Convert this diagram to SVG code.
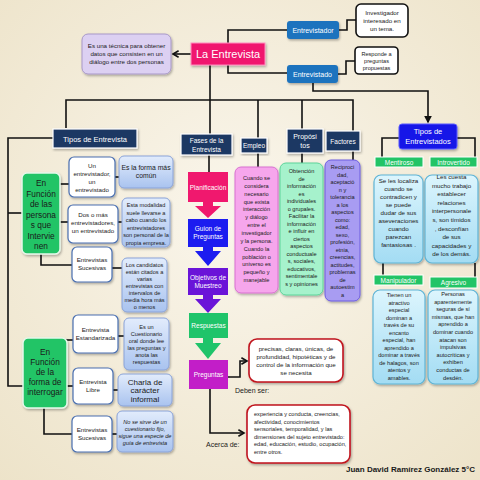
<svg xmlns="http://www.w3.org/2000/svg" width="480" height="480" viewBox="0 0 480 480">
<defs>
<radialGradient id="bg" cx="0.5" cy="0.45" r="0.75">
<stop offset="0" stop-color="#faf6ec"/>
<stop offset="1" stop-color="#ede3c9"/>
</radialGradient>
<linearGradient id="gb" x1="0" y1="0" x2="0" y2="1">
<stop offset="0" stop-color="#e2ecfc"/>
<stop offset="1" stop-color="#a9c3ef"/>
</linearGradient>
<linearGradient id="gc" x1="0" y1="0" x2="0" y2="1">
<stop offset="0" stop-color="#dcf5fd"/>
<stop offset="1" stop-color="#a3dcf3"/>
</linearGradient>
<filter id="sh" x="-20%" y="-20%" width="140%" height="140%">
<feDropShadow dx="1" dy="1.5" stdDeviation="1" flood-color="#000" flood-opacity="0.3"/>
</filter>
<marker id="ah" viewBox="0 0 10 10" refX="8" refY="5" markerWidth="5" markerHeight="5" orient="auto">
<path d="M0,0 L10,5 L0,10 Z" fill="#111"/>
</marker>
<marker id="ao" viewBox="0 0 10 10" refX="8" refY="5" markerWidth="5" markerHeight="5" orient="auto">
<path d="M1,1 L8,5 L1,9" fill="none" stroke="#111" stroke-width="2"/>
</marker>
<style>
text{font-family:"Liberation Sans","DejaVu Sans",sans-serif;text-anchor:middle;fill:#1a1a1a}
.c{fill:none;stroke:#111;stroke-width:1.6}
.nv{fill:#1f3864;stroke:#fff;stroke-width:1.2;filter:url(#sh)}
.wt{fill:#fff;stroke:#4a6fb0;stroke-width:1.2;filter:url(#sh)}
.lb{fill:url(#gb);stroke:#8aa3d8;stroke-width:1;filter:url(#sh)}
.bx{fill:#fff;stroke:#111;stroke-width:1.6}
.rd{fill:#fff;stroke:#c0141e;stroke-width:1.6;filter:url(#sh)}
.gr{fill:#22c466;stroke:#e6f8ea;stroke-width:1.5;filter:url(#sh)}
.gl{fill:#22c466;stroke:#fff;stroke-width:1}
.cd{fill:url(#gc);stroke:#5fb4d6;stroke-width:1.2;filter:url(#sh)}
.w{fill:#fff}
.t5{font-size:5.6px}
.t6{font-size:6.2px}
.t7{font-size:7px}
</style>
</defs>
<rect width="480" height="480" fill="url(#bg)"/>

<g id="connectors">
<path class="c" d="M191,54 H173" marker-end="url(#ao)"/>
<path class="c" d="M287,30 H228 V73 H287"/>
<path class="c" d="M339,30 H347 V20 H356"/>
<path class="c" d="M338,74 H346 V61 H355"/>
<path class="c" d="M313,83 V91 H428 V122" marker-end="url(#ah)"/>
<path class="c" d="M210,65 V134"/>
<path class="c" d="M66,128 V100 H353 V131"/>
<path class="c" d="M258,100 V138"/>
<path class="c" d="M302,100 V129"/>
<path class="c" d="M258,153 V167"/>
<path class="c" d="M302,153 V163"/>
<path class="c" d="M353,151 V160"/>
<path class="c" d="M209,155 V172"/>
<path class="c" d="M53,138 H8 V386 H23"/>
<path class="c" d="M8,213 H22"/>
<path class="c" d="M60,184 H69"/>
<path class="c" d="M60,222 H68"/>
<path class="c" d="M41,254 V265 H72"/>
<path class="c" d="M115,177 H119"/>
<path class="c" d="M118,222 H122"/>
<path class="c" d="M112,268 H122"/>
<path class="c" d="M66,340 H73"/>
<path class="c" d="M118,336 H124"/>
<path class="c" d="M67,386 H73"/>
<path class="c" d="M113,390 H118"/>
<path class="c" d="M44,408 V434 H72"/>
<path class="c" d="M112,434 H117"/>
<path class="c" d="M228,377 H240 V361 H247" marker-end="url(#ao)"/>
<path class="c" d="M210,389 V433 H244" marker-end="url(#ao)"/>
<path class="c" d="M399,138 H382 V157"/>
<path class="c" d="M457,138 H475 V157"/>
<path class="c" d="M383,263 V275"/>
<path class="c" d="M475,263 V277"/>
<polygon fill="#f0186e" points="203,202 213,202 213,206 221,206 208,218 195,206 203,206"/>
<polygon fill="#1c1cf0" points="203,247 213,247 213,251 221,251 208,266 195,251 203,251"/>
<polygon fill="#6a14d8" points="203,295 213,295 213,299 221,299 208,313 195,299 203,299"/>
<polygon fill="#1fc46a" points="203,338 213,338 213,343 221,343 208,359 195,343 203,343"/>
</g>

<g id="descripcion">
<rect x="82" y="34" width="89" height="40" rx="6" fill="#dcd0f2" stroke="#a898c8" filter="url(#sh)"/>
<text class="t6"><tspan x="126.5" y="48">Es una técnica para obtener</tspan><tspan x="126.5" y="56">datos que consisten en un</tspan><tspan x="126.5" y="64">diálogo entre dos personas</tspan></text>
</g>
<g id="la-entrevista">
<rect x="191" y="43" width="74" height="22" fill="#f0146e" stroke="#ff8fbf" filter="url(#sh)"/>
<text class="w" x="228" y="58" font-size="11">La Entrevista</text>
</g>
<g id="entrevistador">
<rect x="287" y="21" width="52" height="18" rx="3" fill="#1e73be" filter="url(#sh)"/>
<text class="w" x="313" y="33" font-size="7">Entrevistador</text>
</g>
<g id="investigador">
<rect class="bx" x="356" y="4" width="52" height="33" rx="5"/>
<text class="t6"><tspan x="382" y="15">Investigador</tspan><tspan x="382" y="23">interesado en</tspan><tspan x="382" y="31">un tema.</tspan></text>
</g>
<g id="entrevistado">
<rect x="287" y="65" width="51" height="18" rx="3" fill="#1e73be" filter="url(#sh)"/>
<text class="w" x="312.5" y="77" font-size="7">Entrevistado</text>
</g>
<g id="responde">
<rect class="bx" x="355" y="47" width="43" height="27" rx="4"/>
<text class="t5"><tspan x="376.5" y="56">Responde a</tspan><tspan x="376.5" y="63">preguntas</tspan><tspan x="376.5" y="70">propuestas</tspan></text>
</g>

<g id="tipos-entrevista">
<rect class="nv" x="53" y="129" width="84" height="19"/>
<text class="w" x="95" y="141.5" font-size="7.5">Tipos de Entrevista</text>
</g>
<g id="funcion-personas">
<rect class="gr" x="22" y="173" width="38" height="81" rx="5"/>
<text font-size="8.3" fill="#123"><tspan x="41" y="186">En</tspan><tspan x="41" y="196.5">Función</tspan><tspan x="41" y="207">de las</tspan><tspan x="41" y="217.5">persona</tspan><tspan x="41" y="228">s que</tspan><tspan x="41" y="238.5">Intervie</tspan><tspan x="41" y="249">nen</tspan></text>
</g>
<g id="un-entrevistador">
<rect class="wt" x="69" y="157" width="46" height="40" rx="5"/>
<text class="t6"><tspan x="92" y="168">Un</tspan><tspan x="92" y="176">entrevistador,</tspan><tspan x="92" y="184">un</tspan><tspan x="92" y="192">entrevistado</tspan></text>
</g>
<g id="forma-comun">
<rect class="lb" x="119" y="156" width="54" height="32" rx="5"/>
<text font-size="6.8"><tspan x="146" y="170">Es la forma más</tspan><tspan x="146" y="178">común</tspan></text>
</g>
<g id="dos-o-mas">
<rect class="wt" x="68" y="205" width="50" height="38" rx="5"/>
<text class="t6"><tspan x="93" y="217">Dos o más</tspan><tspan x="93" y="225">entrevistadores,</tspan><tspan x="93" y="233">un entrevistado</tspan></text>
</g>
<g id="modalidad">
<rect class="lb" x="122" y="198" width="48" height="49" rx="5"/>
<text class="t5"><tspan x="146" y="207">Esta modalidad</tspan><tspan x="146" y="214.5">suele llevarse a</tspan><tspan x="146" y="222">cabo cuando los</tspan><tspan x="146" y="229.5">entrevistadores</tspan><tspan x="146" y="237">son personal de la</tspan><tspan x="146" y="244.5">propia empresa.</tspan></text>
</g>
<g id="sucesivas-1">
<rect class="wt" x="72" y="247" width="40" height="35" rx="5"/>
<text class="t6"><tspan x="92" y="262">Entrevistas</tspan><tspan x="92" y="270">Sucesivas</tspan></text>
</g>
<g id="candidatos">
<rect class="lb" x="122" y="258" width="45" height="54" rx="5"/>
<text class="t5"><tspan x="144.5" y="267">Los candidatos</tspan><tspan x="144.5" y="274">están citados a</tspan><tspan x="144.5" y="281">varias</tspan><tspan x="144.5" y="288">entrevistas con</tspan><tspan x="144.5" y="295">intervalos de</tspan><tspan x="144.5" y="302">media hora más</tspan><tspan x="144.5" y="309">o menos</tspan></text>
</g>
<g id="funcion-interrogar">
<rect class="gr" x="23" y="338" width="44" height="70" rx="5"/>
<text font-size="8.3" fill="#123"><tspan x="45" y="355">En</tspan><tspan x="45" y="365">Función</tspan><tspan x="45" y="375">de la</tspan><tspan x="45" y="385">forma de</tspan><tspan x="45" y="395">interrogar</tspan></text>
</g>
<g id="estandarizada">
<rect class="wt" x="73" y="315" width="45" height="38" rx="5"/>
<text class="t6"><tspan x="95.5" y="332">Entrevista</tspan><tspan x="95.5" y="340">Estandarizada</tspan></text>
</g>
<g id="cuestionario-oral">
<rect class="lb" x="124" y="318" width="45" height="52" rx="5"/>
<text class="t5"><tspan x="146.5" y="329">Es un</tspan><tspan x="146.5" y="336">Cuestionario</tspan><tspan x="146.5" y="343">oral donde lee</tspan><tspan x="146.5" y="350">las preguntas y</tspan><tspan x="146.5" y="357">anota las</tspan><tspan x="146.5" y="364">respuestas</tspan></text>
</g>
<g id="libre">
<rect class="wt" x="73" y="368" width="40" height="36" rx="5"/>
<text class="t6"><tspan x="93" y="384">Entrevista</tspan><tspan x="93" y="392">Libre</tspan></text>
</g>
<g id="charla">
<rect class="lb" x="118" y="374" width="54" height="32" rx="5"/>
<text font-size="8"><tspan x="145" y="384.5">Charla de</tspan><tspan x="145" y="393">carácter</tspan><tspan x="145" y="401.5">informal</tspan></text>
</g>
<g id="sucesivas-2">
<rect class="wt" x="72" y="416" width="40" height="36" rx="5"/>
<text class="t6"><tspan x="92" y="432">Entrevistas</tspan><tspan x="92" y="440">Sucesivas</tspan></text>
</g>
<g id="no-cuestionario">
<rect class="lb" x="117" y="411" width="56" height="41" rx="5"/>
<text class="t5" font-style="italic"><tspan x="145" y="424">No se sirve de un</tspan><tspan x="145" y="431">cuestionario fijo,</tspan><tspan x="145" y="438">sigue una especie de</tspan><tspan x="145" y="445">guía de entrevista</tspan></text>
</g>

<g id="fases">
<rect class="nv" x="181" y="134" width="51" height="21"/>
<text class="w" font-size="6.5"><tspan x="206.5" y="143">Fases de la</tspan><tspan x="206.5" y="151.5">Entrevista</tspan></text>
</g>
<g id="planificacion">
<rect x="188" y="172" width="40" height="30" fill="#f0186e"/>
<text class="w" x="208" y="189.5" font-size="6.5">Planificación</text>
</g>
<g id="guion">
<rect x="188" y="219" width="40" height="28" fill="#1c1cf0"/>
<text class="w" font-size="6.5"><tspan x="208" y="231">Guion de</tspan><tspan x="208" y="239">Preguntas</tspan></text>
</g>
<g id="objetivos">
<rect x="188" y="268" width="40" height="27" fill="#6a14d8"/>
<text class="w" font-size="6.5"><tspan x="208" y="280">Objetivos de</tspan><tspan x="208" y="288">Muestreo</tspan></text>
</g>
<g id="respuestas">
<rect x="189" y="313" width="39" height="25" fill="#1fc46a"/>
<text class="w" x="208.5" y="328" font-size="6.5">Respuestas</text>
</g>
<g id="preguntas">
<rect x="189" y="360" width="39" height="29" fill="#c21ec8"/>
<text class="w" x="208.5" y="377" font-size="6.5">Preguntas</text>
</g>
<g id="deben-ser">
<rect class="rd" x="249" y="339" width="94" height="43" rx="8"/>
<text class="t6"><tspan x="296" y="351">precisas, claras, únicas, de</tspan><tspan x="296" y="359">profundidad, hipotéticas y de</tspan><tspan x="296" y="367">control de la información que</tspan><tspan x="296" y="375">se necesita</tspan></text>
<text x="235" y="393" font-size="7" style="text-anchor:start">Deben ser:</text>
</g>
<g id="acerca-de">
<rect class="rd" x="247" y="405" width="103" height="58" rx="8"/>
<text class="t5" style="text-anchor:start"><tspan x="254" y="416">experiencia y conducta, creencias,</tspan><tspan x="254" y="423.5">afectividad, conocimientos</tspan><tspan x="254" y="431">sensoriales, temporalidad, y las</tspan><tspan x="254" y="438.5">dimensiones del sujeto entrevistado:</tspan><tspan x="254" y="446">edad, educación, estudio, ocupación,</tspan><tspan x="254" y="453.5">entre otros.</tspan></text>
<text x="206" y="447" font-size="7" style="text-anchor:start">Acerca de:</text>
</g>

<g id="empleo">
<rect class="nv" x="241" y="138" width="26" height="15"/>
<text class="w" x="254" y="148" font-size="6.5">Empleo</text>
</g>
<g id="empleo-texto">
<rect x="235" y="167" width="43" height="126" rx="6" fill="#f6a6ec" stroke="#d870d0" filter="url(#sh)"/>
<text class="t5"><tspan x="256.5" y="180">Cuando se</tspan><tspan x="256.5" y="187.8">considera</tspan><tspan x="256.5" y="195.7">necesario</tspan><tspan x="256.5" y="203.5">que exista</tspan><tspan x="256.5" y="211.4">interacción</tspan><tspan x="256.5" y="219.2">y diálogo</tspan><tspan x="256.5" y="227.1">entre el</tspan><tspan x="256.5" y="234.9">investigador</tspan><tspan x="256.5" y="242.8">y la persona.</tspan><tspan x="256.5" y="250.6">Cuando la</tspan><tspan x="256.5" y="258.5">población o</tspan><tspan x="256.5" y="266.3">universo es</tspan><tspan x="256.5" y="274.2">pequeño y</tspan><tspan x="256.5" y="282">manejable</tspan></text>
</g>
<g id="propositos">
<rect class="nv" x="287" y="129" width="36" height="24"/>
<text class="w" font-size="7"><tspan x="305" y="139">Propósi</tspan><tspan x="305" y="148">tos</tspan></text>
</g>
<g id="propositos-texto">
<rect x="280" y="163" width="43" height="132" rx="6" fill="#a6f2cc" stroke="#5cd49a" filter="url(#sh)"/>
<text class="t5"><tspan x="301.5" y="173">Obtención</tspan><tspan x="301.5" y="180.5">de</tspan><tspan x="301.5" y="188">información</tspan><tspan x="301.5" y="195.5">es</tspan><tspan x="301.5" y="203">individuales</tspan><tspan x="301.5" y="210.5">o grupales.</tspan><tspan x="301.5" y="218">Facilitar la</tspan><tspan x="301.5" y="225.5">información</tspan><tspan x="301.5" y="233">e influir en</tspan><tspan x="301.5" y="240.5">ciertos</tspan><tspan x="301.5" y="248">aspectos</tspan><tspan x="301.5" y="255.5">conductuale</tspan><tspan x="301.5" y="263">s, sociales,</tspan><tspan x="301.5" y="270.5">educativos,</tspan><tspan x="301.5" y="278">sentimentale</tspan><tspan x="301.5" y="285.5">s y opiniones</tspan></text>
</g>
<g id="factores">
<rect class="nv" x="326" y="131" width="34" height="20"/>
<text class="w" x="343" y="144" font-size="6.5">Factores</text>
</g>
<g id="factores-texto">
<rect x="325" y="160" width="35" height="141" rx="6" fill="#a89cf2" stroke="#6c5ce0" filter="url(#sh)"/>
<text class="t5"><tspan x="342.5" y="169">Reciproci</tspan><tspan x="342.5" y="176.5">dad,</tspan><tspan x="342.5" y="184">aceptació</tspan><tspan x="342.5" y="191.5">n y</tspan><tspan x="342.5" y="199">tolerancia</tspan><tspan x="342.5" y="206.5">a los</tspan><tspan x="342.5" y="214">aspectos</tspan><tspan x="342.5" y="221.5">como:</tspan><tspan x="342.5" y="229">edad,</tspan><tspan x="342.5" y="236.5">sexo,</tspan><tspan x="342.5" y="244">profesión,</tspan><tspan x="342.5" y="251.5">etnia,</tspan><tspan x="342.5" y="259">creencias,</tspan><tspan x="342.5" y="266.5">actitudes,</tspan><tspan x="342.5" y="274">problemas</tspan><tspan x="342.5" y="281.5">de</tspan><tspan x="342.5" y="289">autoestim</tspan><tspan x="342.5" y="296.5">a</tspan></text>
</g>

<g id="tipos-entrevistados">
<rect x="399" y="124" width="58" height="25" rx="3" fill="#1414e8" stroke="#5a5aff" filter="url(#sh)"/>
<text class="w" font-size="7.5"><tspan x="428" y="134">Tipos de</tspan><tspan x="428" y="144">Entrevistados</tspan></text>
</g>
<g id="mentiroso">
<rect class="gl" x="375" y="157" width="48" height="10"/>
<text class="w" x="399" y="164.5" font-size="6.5">Mentiroso</text>
<rect class="cd" x="374" y="175" width="49" height="88" rx="7"/>
<text class="t6"><tspan x="398.5" y="183">Se les localiza</tspan><tspan x="398.5" y="191">cuando se</tspan><tspan x="398.5" y="199">contradicen y</tspan><tspan x="398.5" y="207">se puede</tspan><tspan x="398.5" y="215">dudar de sus</tspan><tspan x="398.5" y="223">aseveraciones</tspan><tspan x="398.5" y="231">cuando</tspan><tspan x="398.5" y="239">parezcan</tspan><tspan x="398.5" y="247">fantasiosas .</tspan></text>
</g>
<g id="introvertido">
<rect class="gl" x="430" y="157" width="47" height="10"/>
<text class="w" x="453.5" y="164.5" font-size="6.5">Introvertido</text>
<rect class="cd" x="425" y="175" width="53" height="88" rx="7"/>
<text class="t6"><tspan x="451.5" y="179">Les cuesta</tspan><tspan x="451.5" y="187.6">mucho trabajo</tspan><tspan x="451.5" y="196.2">establecer</tspan><tspan x="451.5" y="204.8">relaciones</tspan><tspan x="451.5" y="213.4">interpersonale</tspan><tspan x="451.5" y="222">s, son tímidos</tspan><tspan x="451.5" y="230.6">, desconfían</tspan><tspan x="451.5" y="239.2">de sus</tspan><tspan x="451.5" y="247.8">capacidades y</tspan><tspan x="451.5" y="256.4">de los demás.</tspan></text>
</g>
<g id="manipulador">
<rect class="gl" x="374" y="275" width="49" height="10"/>
<text class="w" x="398.5" y="282.5" font-size="6.5">Manipulador</text>
<rect class="cd" x="373" y="290" width="52" height="94" rx="7"/>
<text class="t5"><tspan x="399" y="297">Tienen un</tspan><tspan x="399" y="304.5">atractivo</tspan><tspan x="399" y="312">especial</tspan><tspan x="399" y="319.5">dominan a</tspan><tspan x="399" y="327">través de su</tspan><tspan x="399" y="334.5">encanto</tspan><tspan x="399" y="342">especial, han</tspan><tspan x="399" y="349.5">aprendido a</tspan><tspan x="399" y="357">dominar a través</tspan><tspan x="399" y="364.5">de halagos, son</tspan><tspan x="399" y="372">atentos y</tspan><tspan x="399" y="379.5">amables.</tspan></text>
</g>
<g id="agresivo">
<rect class="gl" x="430" y="277" width="47" height="11"/>
<text class="w" x="453.5" y="285" font-size="6.5">Agresivo</text>
<rect class="cd" x="428" y="290" width="50" height="94" rx="7"/>
<text class="t5"><tspan x="453" y="296">Personas</tspan><tspan x="453" y="303.6">aparentemente</tspan><tspan x="453" y="311.2">seguras de sí</tspan><tspan x="453" y="318.8">mismas, que han</tspan><tspan x="453" y="326.4">aprendido a</tspan><tspan x="453" y="334">dominar cuando</tspan><tspan x="453" y="341.6">atacan son</tspan><tspan x="453" y="349.2">impulsivas</tspan><tspan x="453" y="356.8">autocríticas y</tspan><tspan x="453" y="364.4">exhiben</tspan><tspan x="453" y="372">conductas de</tspan><tspan x="453" y="379.6">desdén.</tspan></text>
</g>

<text x="346" y="472" font-size="8" font-weight="bold" style="text-anchor:start">Juan David Ramírez González 5°C</text>
</svg>
